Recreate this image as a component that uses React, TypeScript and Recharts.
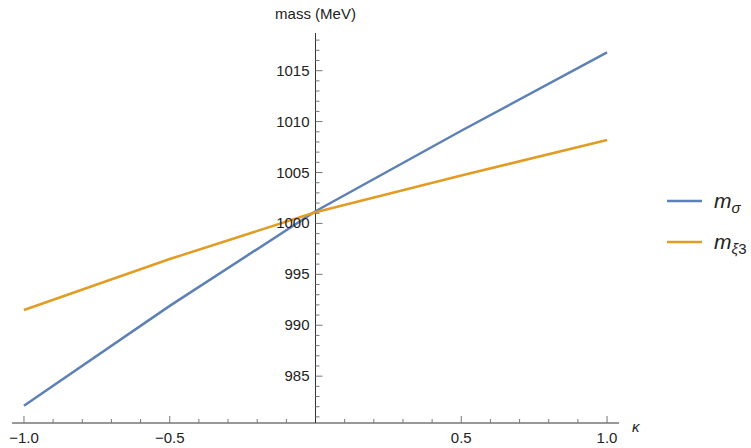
import { LineChart, Line, XAxis, YAxis, ReferenceLine, Legend } from 'recharts'

// readings
const KAPPA = [-1, -0.5, 0, 0.5, 1]
const M_SIGMA = [982.1, 991.9, 1001.2, 1009.1, 1016.8]
const M_XI3 = [991.5, 996.5, 1001.1, 1004.7, 1008.2]

const X_TICKS = [-1, -0.9, -0.8, -0.7, -0.6, -0.5, -0.4, -0.3, -0.2, -0.1, 0.1, 0.2, 0.3, 0.4, 0.5, 0.6, 0.7, 0.8, 0.9, 1]
const X_LABELS = [-1, -0.5, 0.5, 1]
const Y_LABELS = [985, 990, 995, 1000, 1005, 1010, 1015]
const Y_MINOR_FROM = 981
const Y_MINOR_TO = 1018
const Y_TICKS = Array.from({ length: Y_MINOR_TO - Y_MINOR_FROM + 1 }, (_, i) => Y_MINOR_FROM + i)

const SERIES = [
  { key: 'sigma', sub: 'σ', subTail: '', color: '#5E81B5' },
  { key: 'xi3', sub: 'ξ', subTail: '3', color: '#E19C24' },
]

const data = KAPPA.map((k, i) => ({ k, sigma: M_SIGMA[i], xi3: M_XI3[i] }))

const W = 751
const H = 448
const MARGIN = { top: 33, right: 132, bottom: 17, left: 11 }
const Y_AXIS_W = 1
const X_AXIS_H = 8
const X_MIN = -1.041
const X_MAX = 1.041
const Y_MIN = 980.4
const Y_MAX = 1018.7

const PLOT_LEFT = MARGIN.left + Y_AXIS_W
const PLOT_W = W - PLOT_LEFT - MARGIN.right
const PLOT_BOTTOM = H - MARGIN.bottom - X_AXIS_H
// pixel column of kappa = 0, where the vertical axis sits
const X0 = PLOT_LEFT + ((0 - X_MIN) / (X_MAX - X_MIN)) * PLOT_W

const FONT = '"Liberation Sans", Arial, sans-serif'
const AXIS = '#333'
const TICK = '#777'
const LABEL = '#222'

const fmtX = (v: number) => (v < 0 ? '\u2212' + Math.abs(v).toFixed(1) : v.toFixed(1))

function XTick(props: any) {
  const { x, payload } = props
  const v = payload.value as number
  const major = X_LABELS.some(l => Math.abs(l - v) < 1e-9)
  return (
    <g>
      <line x1={x} x2={x} y1={PLOT_BOTTOM} y2={PLOT_BOTTOM - (major ? 7 : 4)} stroke={TICK} />
      {major && (
        <text x={x} y={PLOT_BOTTOM + 20} textAnchor="middle" fontSize={15} fontFamily={FONT} fill={LABEL}>
          {fmtX(v)}
        </text>
      )}
    </g>
  )
}

function YTick(props: any) {
  const { y, payload } = props
  const v = payload.value as number
  const major = Y_LABELS.includes(v)
  return (
    <g>
      <line x1={X0} x2={X0 + (major ? 7 : 4)} y1={y} y2={y} stroke={TICK} />
      {major && (
        <text x={X0 - 6} y={y + 5} textAnchor="end" fontSize={15} fontFamily={FONT} fill={LABEL}>
          {v}
        </text>
      )}
    </g>
  )
}

function LegendBox() {
  return (
    <div style={{ fontFamily: FONT, color: LABEL }}>
      {SERIES.map(s => (
        <div key={s.key} style={{ display: 'flex', alignItems: 'center', height: 41 }}>
          <svg width={35} height={4}>
            <line x1={0} y1={2} x2={35} y2={2} stroke={s.color} strokeWidth={2.5} />
          </svg>
          <span style={{ marginLeft: 12, fontSize: 21, fontStyle: 'italic', lineHeight: '21px', position: 'relative', top: 1 }}>
            m
            <span style={{ fontSize: 15, position: 'relative', top: 5 }}>
              {s.sub}
              <span style={{ fontStyle: 'normal' }}>{s.subTail}</span>
            </span>
          </span>
        </div>
      ))}
    </div>
  )
}

export default function App() {
  return (
    <div style={{ position: 'absolute', left: 0, top: 0, width: W, height: H, background: '#fff' }}>
      <LineChart width={W} height={H} data={data} margin={MARGIN}>
        <XAxis
          dataKey="k"
          type="number"
          domain={[X_MIN, X_MAX]}
          allowDataOverflow
          ticks={X_TICKS}
          interval={0}
          tick={<XTick />}
          tickLine={false}
          tickSize={0}
          tickMargin={0}
          height={X_AXIS_H}
          axisLine={{ stroke: AXIS, strokeWidth: 1 }}
          label={{ value: 'κ', position: 'right', offset: 13, fontSize: 15, fontStyle: 'italic', fontFamily: FONT, fill: LABEL }}
        />
        <YAxis
          type="number"
          domain={[Y_MIN, Y_MAX]}
          allowDataOverflow
          ticks={Y_TICKS}
          interval={0}
          tick={<YTick />}
          tickLine={false}
          tickSize={0}
          tickMargin={0}
          axisLine={false}
          width={Y_AXIS_W}
        />
        <ReferenceLine
          x={0}
          stroke={AXIS}
          strokeWidth={1}
          label={{ value: 'mass (MeV)', position: 'top', offset: 14, fontSize: 15, fontFamily: FONT, fill: LABEL }}
        />
        {SERIES.map(s => (
          <Line
            key={s.key}
            type="linear"
            dataKey={s.key}
            stroke={s.color}
            strokeWidth={2.5}
            dot={false}
            isAnimationActive={false}
          />
        ))}
        <Legend
          layout="vertical"
          align="center"
          verticalAlign="middle"
          content={<LegendBox />}
          wrapperStyle={{ left: 667, top: 180, width: 84 }}
        />
      </LineChart>
    </div>
  )
}
